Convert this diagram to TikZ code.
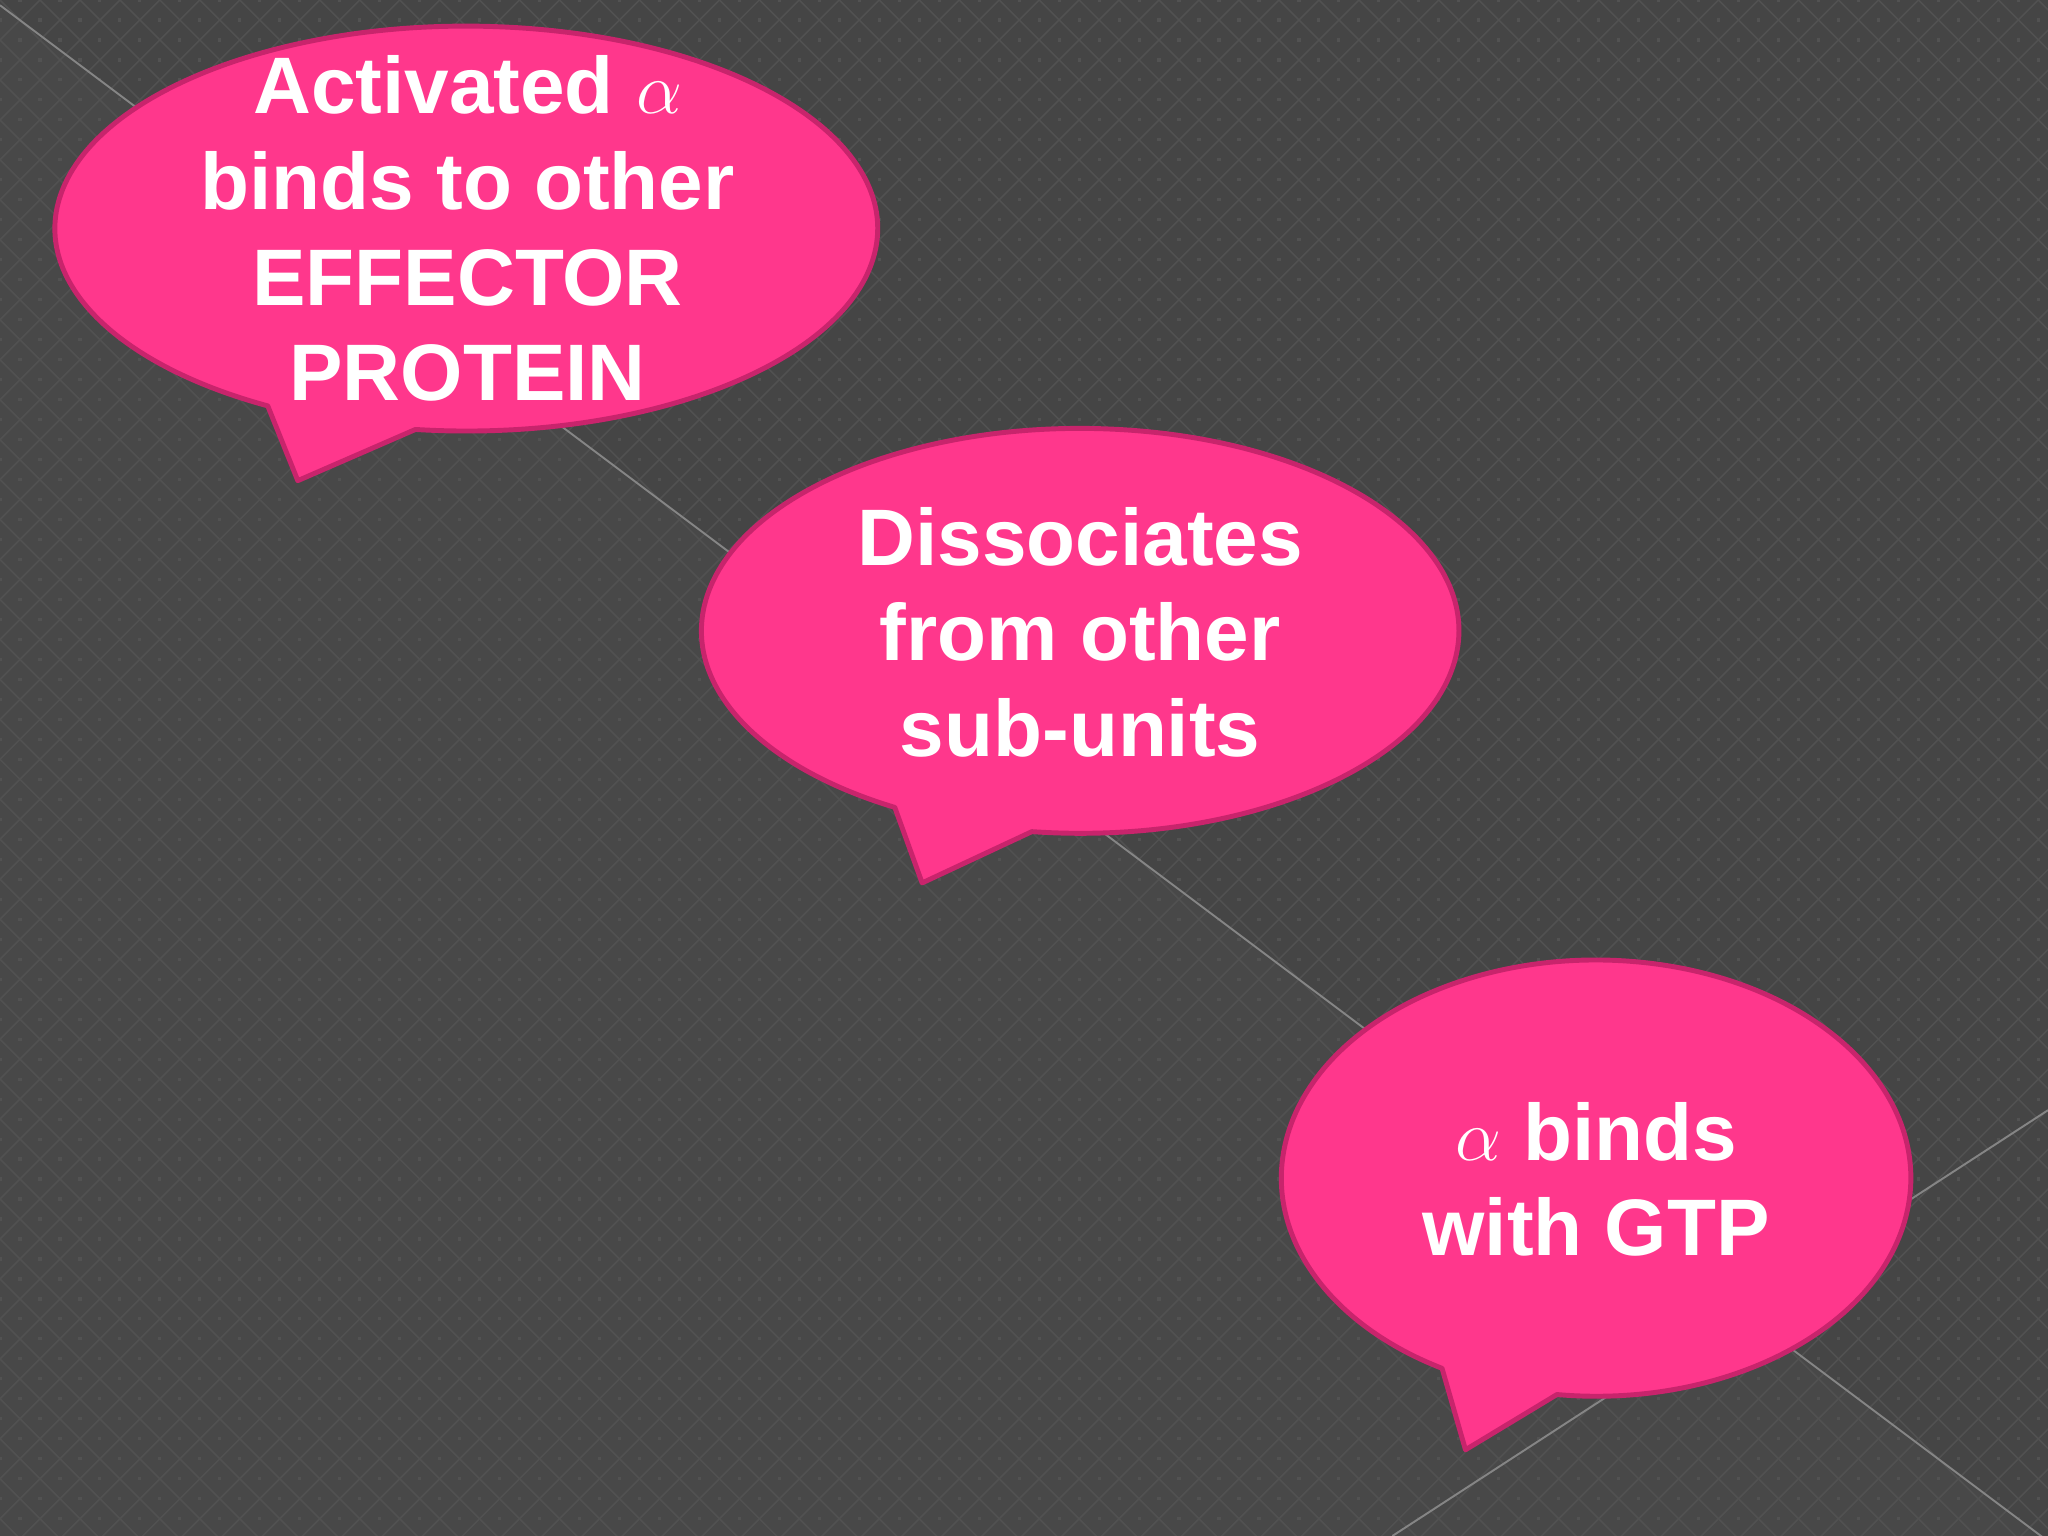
\documentclass[tikz,border=0pt]{standalone}
\usepackage{fontspec}
\setmainfont{Liberation Sans}
\definecolor{bgc}{HTML}{454545}
\definecolor{latc}{HTML}{515151}
\definecolor{dotc}{HTML}{525252}
\definecolor{linec}{HTML}{858585}
\definecolor{pinkc}{HTML}{FF378C}
\definecolor{pinkd}{HTML}{C8246C}
\tikzset{
  lattice/.style={draw=latc, line width=0.45pt},
  streak/.style={draw=linec, line width=0.55pt},
  bubble/.style={fill=pinkc, draw=pinkd, line width=1.4pt, line join=round},
  txt/.style={text=white, align=center, inner sep=0pt,
    font=\bfseries\fontsize{22.8}{27.2}\selectfont}
}
\newcommand\speechbubble[8]{%
  \filldraw[bubble] ({#1+#3*cos(#6)},{#2+#4*sin(#6)})
    arc[start angle=#6, end angle=#5, x radius=#3, y radius=#4]
    -- (#7,#8) -- cycle;}
\begin{document}
\begin{tikzpicture}[x=0.013061cm,y=-0.013061cm]
\fill[bgc] (0,0) rectangle (1568,1176);
\useasboundingbox (0,0) rectangle (1568,1176);
\begin{scope}
  \clip (0,0) rectangle (1568,1176);
  \fill[white, opacity=0.02] (0,4) -- (1568,1180) -- (0,1180) -- cycle;
  \foreach \n in {0,...,91} { \draw[lattice] ({\n*30.6},0) -- ++(-1220,1220); }
  \foreach \m in {-40,...,52} { \draw[lattice] ({\m*30.6},0) -- ++(1220,1220); }
  \foreach \i in {0,...,51} {
    \foreach \j in {0,...,38} {
      \fill[dotc] ({\i*30.6+15.3-1.2},{\j*30.6-1.2}) rectangle ++(2.4,2.4);
      \fill[dotc] ({\i*30.6-1.2},{\j*30.6+15.3-1.2}) rectangle ++(2.4,2.4);
    }
  }
  \coordinate (s1a) at (0,4);
  \coordinate (s1b) at (1568,1180);
  \coordinate (s2a) at (1568,850);
  \coordinate (s2b) at (1066,1176);
  \draw[streak] (s1a) -- (s1b);
  \draw[streak] (s2a) -- (s2b);
\end{scope}
% bubbles: cx, cy, rx, ry, left-base angle, right-base angle, tip
\speechbubble{357}{175}{315}{155}{-241.15}{97.1}{228}{368}
\speechbubble{827}{483}{290}{155}{-240.7}{97.33}{706}{676}
\speechbubble{1222}{902}{241}{167}{-240.7}{97.15}{1122}{1110}
\node[txt] (b1) at (358,175) {Activated $\alpha$\\binds to other\\EFFECTOR\\PROTEIN};
\node[txt] (b2) at (827,484) {Dissociates\\from other\\sub-units};
\node[txt] (b3) at (1222,903) {$\alpha$ binds\\with GTP};
\end{tikzpicture}
\end{document}
